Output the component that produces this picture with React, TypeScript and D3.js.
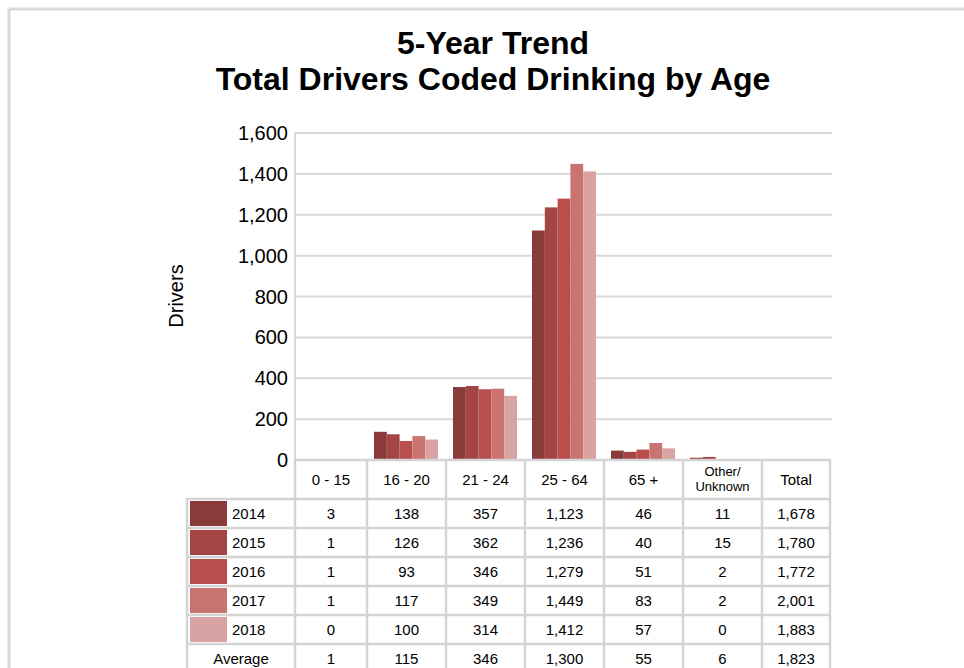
import React from 'react';
import * as d3 from 'd3';

// Age groups (x categories) and the table header labels
const ageGroups = ['0 - 15', '16 - 20', '21 - 24', '25 - 64', '65 +', 'Other/Unknown'];
const years = ['2014', '2015', '2016', '2017', '2018'];
const yearColors = ['#8b3a3a', '#a54444', '#b94f4c', '#c97471', '#d9a3a3'];

// Drivers per age group, one array per year
const drivers2014 = [3, 138, 357, 1123, 46, 11];
const drivers2015 = [1, 126, 362, 1236, 40, 15];
const drivers2016 = [1, 93, 346, 1279, 51, 2];
const drivers2017 = [1, 117, 349, 1449, 83, 2];
const drivers2018 = [0, 100, 314, 1412, 57, 0];
const yearTotals = [1678, 1780, 1772, 2001, 1883];

const averages = [1, 115, 346, 1300, 55, 6];
const averageTotal = 1823;

const yTicks = [0, 200, 400, 600, 800, 1000, 1200, 1400, 1600];

const series = [drivers2014, drivers2015, drivers2016, drivers2017, drivers2018];

const FONT = '"Liberation Sans", Arial, sans-serif';
const GRID = '#d9d9d9';
const BORDER = '#d4d4d4';

export default function App() {
  const plotLeft = 295;
  const plotRight = 832;
  const plotTop = 133;
  const plotBottom = 460;

  const y = d3.scaleLinear().domain([0, 1600]).range([plotBottom, plotTop]);
  const x = d3.scaleBand<string>().domain(ageGroups).range([288, 762]);
  const xYear = d3.scaleBand<string>().domain(years).range([7, 71]);
  const fmt = d3.format(',');

  const tableLeft = 187;
  const tableRight = 830;
  const headerBottom = 499;
  const rowH = 29;
  const rowTop = (i: number) => headerBottom + i * rowH;

  // column edges for the table
  const colEdges = ageGroups.map((g) => Math.max(plotLeft, x(g) as number));
  colEdges.push(762, tableRight);
  const colCenter = (i: number) => (colEdges[i] + colEdges[i + 1]) / 2;

  const rows = years.map((yr, i) => ({
    label: yr,
    color: yearColors[i],
    values: [...series[i], yearTotals[i]],
  }));
  rows.push({ label: 'Average', color: '', values: [...averages, averageTotal] });

  return (
    <svg
      width={964}
      height={668}
      style={{ position: 'absolute', left: 0, top: 0, background: '#fff' }}
      fontFamily={FONT}
    >
      {/* outer frame */}
      <line x1={9} y1={9} x2={964} y2={9} stroke={GRID} strokeWidth={3} />
      <line x1={9} y1={9} x2={9} y2={668} stroke={GRID} strokeWidth={3} />

      {/* title */}
      <text x={493} y={54} textAnchor="middle" fontSize={32} fontWeight="bold" fill="#000">
        5-Year Trend
      </text>
      <text x={493} y={90} textAnchor="middle" fontSize={32} fontWeight="bold" fill="#000">
        Total Drivers Coded Drinking by Age
      </text>

      {/* gridlines and y ticks */}
      {yTicks.map((t) => (
        <g key={t}>
          {t > 0 && (
            <line x1={plotLeft} x2={plotRight} y1={y(t)} y2={y(t)} stroke={GRID} strokeWidth={2} />
          )}
          <text x={288} y={y(t) + 7} textAnchor="end" fontSize={20} fill="#000">
            {fmt(t)}
          </text>
        </g>
      ))}
      <line x1={plotLeft} x2={plotLeft} y1={plotTop} y2={plotBottom} stroke={GRID} strokeWidth={2} />

      <text
        transform={`translate(183,296) rotate(-90)`}
        textAnchor="middle"
        fontSize={20}
        fill="#000"
      >
        Drivers
      </text>

      {/* bars */}
      {ageGroups.map((g, gi) => (
        <g key={g} transform={`translate(${x(g)},0)`}>
          {years.map((yr, yi) => {
            const v = series[yi][gi];
            return (
              <rect
                key={yr}
                x={xYear(yr)}
                y={y(v)}
                width={xYear.bandwidth()}
                height={plotBottom - y(v)}
                fill={yearColors[yi]}
              />
            );
          })}
        </g>
      ))}

      {/* table header */}
      {ageGroups.map((g, i) =>
        g === 'Other/Unknown' ? (
          <text key={g} x={colCenter(i)} textAnchor="middle" fontSize={13} fill="#000">
            <tspan x={colCenter(i)} y={476}>Other/</tspan>
            <tspan x={colCenter(i)} y={491}>Unknown</tspan>
          </text>
        ) : (
          <text key={g} x={colCenter(i)} y={485} textAnchor="middle" fontSize={15} fill="#000">
            {g}
          </text>
        )
      )}
      <text x={colCenter(6)} y={485} textAnchor="middle" fontSize={15} fill="#000">
        Total
      </text>

      {/* table rows */}
      {rows.map((r, ri) => (
        <g key={r.label}>
          {r.color ? (
            <>
              <rect x={190} y={rowTop(ri) + 2} width={37} height={rowH - 4} fill={r.color} />
              <text x={232} y={rowTop(ri) + 20} fontSize={15} fill="#000">
                {r.label}
              </text>
            </>
          ) : (
            <text x={(tableLeft + plotLeft) / 2} y={rowTop(ri) + 20} textAnchor="middle" fontSize={15} fill="#000">
              {r.label}
            </text>
          )}
          {r.values.map((v, ci) => (
            <text key={ci} x={colCenter(ci)} y={rowTop(ri) + 20} textAnchor="middle" fontSize={15} fill="#000">
              {fmt(v)}
            </text>
          ))}
        </g>
      ))}

      {/* table borders */}
      <line x1={plotLeft - 1} x2={tableRight + 1} y1={plotBottom} y2={plotBottom} stroke={BORDER} strokeWidth={2.5} />
      {d3.range(rows.length + 1).map((i) => (
        <line
          key={i}
          x1={tableLeft - 1}
          x2={tableRight + 1}
          y1={rowTop(i)}
          y2={rowTop(i)}
          stroke={BORDER}
          strokeWidth={2.5}
        />
      ))}
      {colEdges.map((cx, i) => (
        <line key={i} x1={cx} x2={cx} y1={plotBottom} y2={680} stroke={BORDER} strokeWidth={2.5} />
      ))}
      <line x1={tableLeft} x2={tableLeft} y1={headerBottom} y2={680} stroke={BORDER} strokeWidth={2.5} />
    </svg>
  );
}
